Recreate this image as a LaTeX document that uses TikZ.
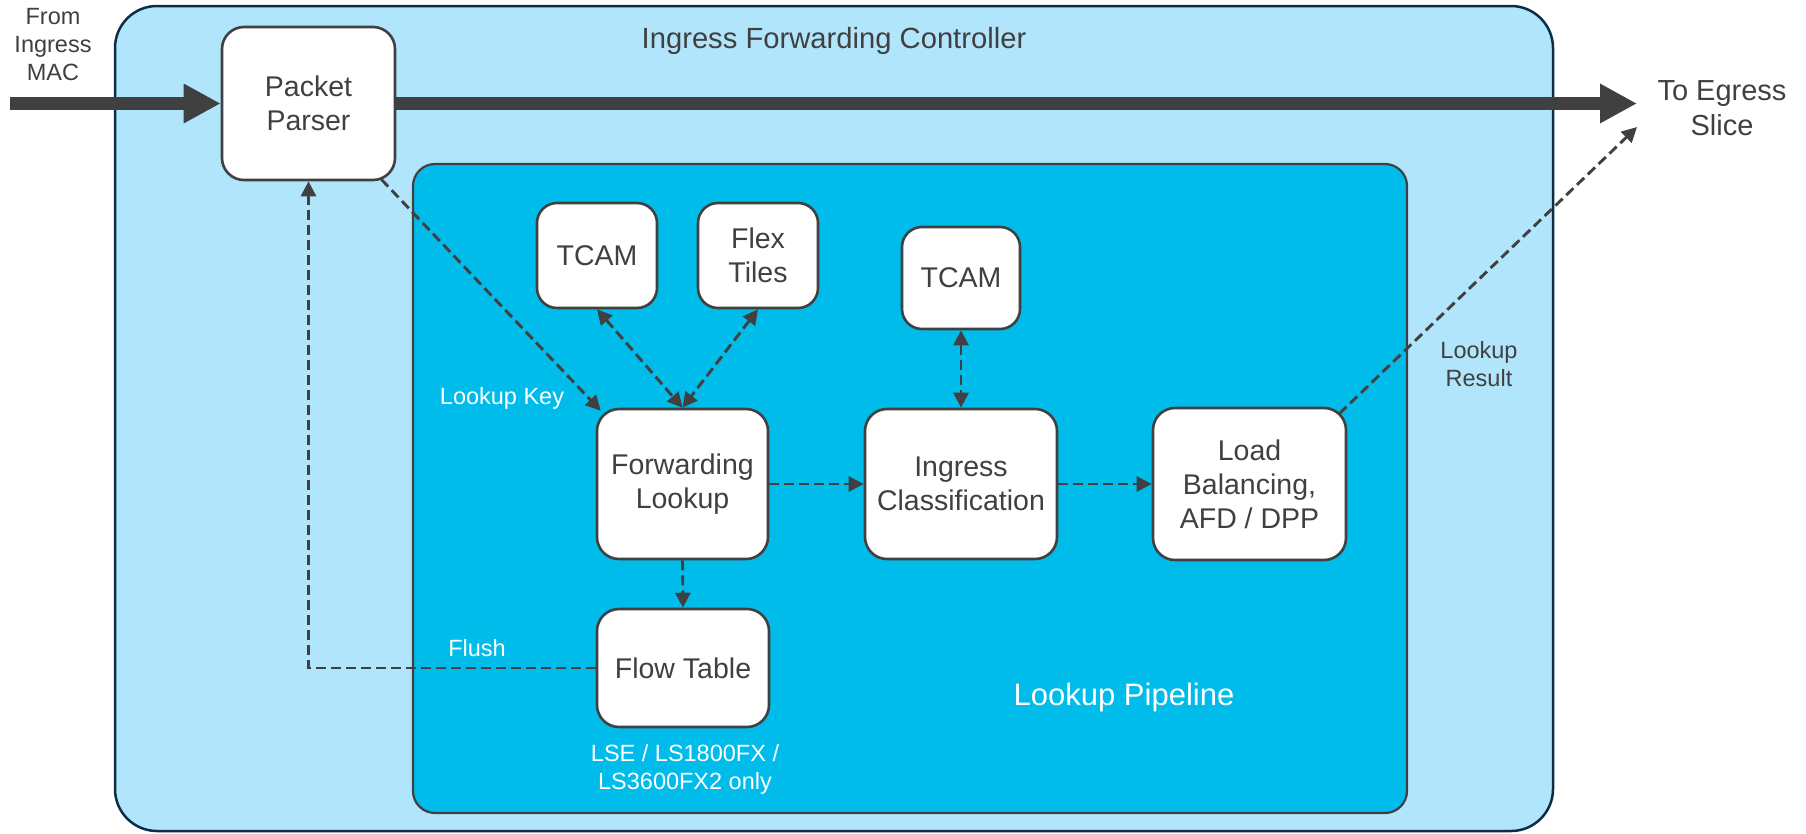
\documentclass[tikz,border=0pt]{standalone}
\usepackage{fontspec}
\setmainfont{Liberation Sans}
\usetikzlibrary{arrows.meta,calc}
\definecolor{outerfill}{HTML}{B1E5FC}
\definecolor{innerfill}{HTML}{00BCEB}
\definecolor{outerline}{HTML}{0B2D45}
\definecolor{dk}{HTML}{404040}
\begin{document}
\begin{tikzpicture}[x=1pt,y=-1pt,
  blk/.style={draw=dk, line width=2.6pt, fill=white, rounded corners=22pt, align=center, text=dk,
    font=\fontsize{28.5}{34}\selectfont, inner sep=0pt},
  lbl/.style={align=center, font=\fontsize{23.5}{28}\selectfont, inner sep=0pt},
  tip/.tip={Triangle[length=15pt,width=15pt]},
  dsh/.style={draw=dk, line width=2.9pt, dash pattern=on 10pt off 5pt, -tip},
  dshtwo/.style={dsh, tip-tip},
  bigarrow/.style={draw=dk, line width=13pt, -{Triangle[length=37pt,width=37pt]}}]
\useasboundingbox (0,0) rectangle (1806,833);

% containers
\node (ctrl) [draw=outerline, fill=outerfill, line width=2.5pt, rounded corners=42pt,
  minimum width=1438pt, minimum height=825pt, inner sep=0pt] at (834,418.5) {};
\node (pipe) [draw=dk, fill=innerfill, line width=2.2pt, rounded corners=22pt,
  minimum width=994pt, minimum height=649pt, inner sep=0pt] at (910,488.5) {};

\node (ctitle) [anchor=base, text=dk, font=\fontsize{29.2}{35}\selectfont, inner sep=0pt] at (834,48) {Ingress Forwarding Controller};
\node (ptitle) [anchor=base, text=white, font=\fontsize{31}{36}\selectfont, inner sep=0pt] at (1124,705) {Lookup Pipeline};

% blocks
\node (pp) [blk, minimum width=173pt, minimum height=153pt] at (308.5,103.5) {Packet\\Parser};
\node (tc1) [blk, minimum width=120pt, minimum height=105pt, rounded corners=20pt] at (597,255.5) {TCAM};
\node (flex) [blk, minimum width=120pt, minimum height=105pt, rounded corners=20pt] at (758,255.5) {Flex\\Tiles};
\node (tc2) [blk, minimum width=118pt, minimum height=102pt, rounded corners=20pt] at (961,278) {TCAM};
\node (fl) [blk, minimum width=171pt, minimum height=150pt] at (682.5,484) {Forwarding\\Lookup};
\node (ic) [blk, minimum width=192pt, minimum height=150pt] at (961,484) {Ingress\\Classification};
\node (lb) [blk, minimum width=193pt, minimum height=152pt] at (1249.5,484) {Load\\Balancing,\\AFD / DPP};
\node (ft) [blk, minimum width=172pt, minimum height=118pt] at (683,668) {Flow Table};

% outside labels
\node (from) [lbl, text=dk] at (53,45) {From\\Ingress\\MAC};
\node (to) [lbl, text=dk, font=\fontsize{29}{35}\selectfont] at (1722,108) {To Egress\\Slice};

% inner labels
\node (lkey) [lbl, text=white] at (502,398) {Lookup Key};
\node (flush) [lbl, text=white] at (477,648) {Flush};
\node (lse) [lbl, text=white] at (685,769) {LSE / LS1800FX /\\LS3600FX2 only};
\node (lres) [lbl, text=dk] at (1479,364) {Lookup\\Result};

% coordinates
\coordinate (inp) at (10,103.5);
\coordinate (outp) at (1637,103.5);
\coordinate (egr) at (1637,127);

% thick data path
\draw[bigarrow] (inp) -- (pp.west);
\draw[bigarrow] (pp.east) -- (outp);

% dashed connectors
\draw[dsh] ($(pp.south east)+(-15,-2)$) -- ($(fl.north west)+(5,3)$);
\draw[dshtwo] (tc1.south) -- (fl.north);
\draw[dshtwo] (flex.south) -- (fl.north);
\draw[dshtwo] (tc2.south) -- (ic.north);
\draw[dsh] (fl.east) -- (ic.west);
\draw[dsh] (ic.east) -- (lb.west);
\draw[dsh] (fl.south) -- (ft.north);
\draw[dsh] (ft.west) -| (pp.south);
\draw[dsh] ($(lb.north east)+(-8,7)$) -- (egr);
\end{tikzpicture}
\end{document}
